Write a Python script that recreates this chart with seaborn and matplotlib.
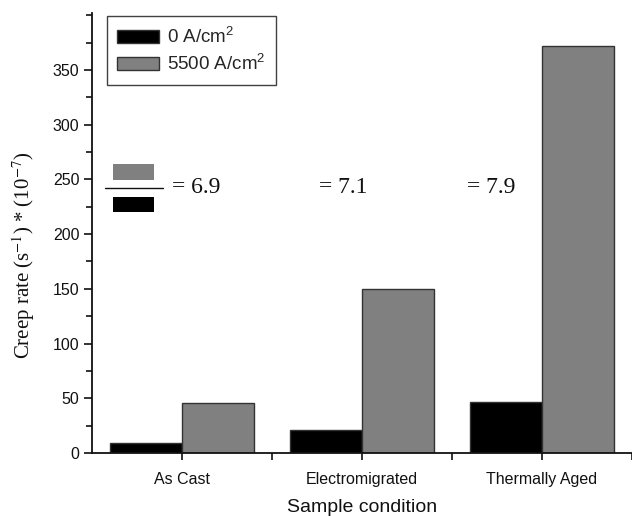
import matplotlib
matplotlib.use("Agg")
import matplotlib.pyplot as plt
import seaborn as sns
import pandas as pd
from matplotlib.patches import Rectangle, Patch
from matplotlib.lines import Line2D
from matplotlib.ticker import MultipleLocator, FixedLocator

# ---- data ----
conditions = ["As Cast", "Electromigrated", "Thermally Aged"]
series_names = ["0 A/cm$^{\\mathregular{2}}$", "5500 A/cm$^{\\mathregular{2}}$"]
rate_0 = [8.8, 20.7, 46.9]
rate_5500 = [46.0, 149.6, 371.5]
ratio_labels = ["= 6.9", "= 7.1", "= 7.9"]
y_ticks = [0, 50, 100, 150, 200, 250, 300, 350]

df = pd.DataFrame({
    "condition": conditions * 2,
    "series": [series_names[0]] * 3 + [series_names[1]] * 3,
    "rate": rate_0 + rate_5500,
})

sns.set_style("white")
plt.rcParams["font.family"] = ["Liberation Sans", "DejaVu Sans"]
plt.rcParams["mathtext.fontset"] = "stix"

fig = plt.figure(figsize=(6.32, 5.16), dpi=100)
ax = fig.add_axes([92 / 632, 63 / 516, 540 / 632, 440 / 516])

colors = ["#000000", "#808080"]
sns.barplot(data=df, x="condition", y="rate", hue="series", order=conditions,
            hue_order=series_names, palette=colors, width=0.8, ax=ax,
            edgecolor="#333333", linewidth=1.0, saturation=1, legend=False)

ax.set_xlim(-0.5, 2.5)
ax.set_ylim(0, 402)
ax.yaxis.set_major_locator(FixedLocator(y_ticks))
ax.yaxis.set_minor_locator(MultipleLocator(25))
ax.xaxis.set_minor_locator(FixedLocator([0.5, 1.5, 2.5]))

for s in ["top", "right"]:
    ax.spines[s].set_visible(False)
for s in ["left", "bottom"]:
    ax.spines[s].set_color("#111111")
    ax.spines[s].set_linewidth(1.3)

ax.tick_params(axis="both", which="both", direction="out", color="#111111",
               width=1.2, bottom=True, left=True)
ax.tick_params(axis="y", which="major", length=6, labelsize=11.5, pad=3)
ax.tick_params(axis="y", which="minor", length=4)
ax.tick_params(axis="x", which="both", length=5, labelsize=11.5, pad=9)
for lab in ax.get_xticklabels() + ax.get_yticklabels():
    lab.set_color("#111111")

ax.set_xlabel("Sample condition", fontsize=14, color="#111111", labelpad=8)
ax.set_ylabel("Creep rate (s$^{-1}$) * (10$^{-7}$)", fontsize=15,
              family=["Liberation Serif"], color="#111111")
ax.yaxis.set_label_coords(-0.102, 0.449)

handles = [Patch(facecolor=colors[0], edgecolor="#333333", label=series_names[0]),
           Patch(facecolor=colors[1], edgecolor="#333333", label=series_names[1])]
leg = ax.legend(handles=handles, loc="upper left", bbox_to_anchor=(0.028, 0.993),
                borderaxespad=0, fontsize=13.5, frameon=True, fancybox=False,
                edgecolor="#111111", handlelength=2.2, handleheight=0.7,
                borderpad=0.55, labelspacing=0.4, handletextpad=0.45)
leg.get_frame().set_linewidth(1.0)

# ratio icon (gray over black)
ax.add_patch(Rectangle((0.039, 0.620), 0.076, 0.037, transform=ax.transAxes,
                       facecolor="#808080", edgecolor="none", clip_on=False))
ax.add_line(Line2D([0.024, 0.1315], [0.602, 0.602], transform=ax.transAxes,
                   color="#111111", linewidth=1.0))
ax.add_patch(Rectangle((0.039, 0.548), 0.076, 0.034, transform=ax.transAxes,
                       facecolor="#000000", edgecolor="none", clip_on=False))

ratio_x = [0.148, 0.420, 0.694]
for xp, txt in zip(ratio_x, ratio_labels):
    ax.text(xp, 0.604, txt, transform=ax.transAxes, ha="left", va="center",
            fontsize=17, family=["Liberation Serif"], color="#111111")

fig.savefig("out.png", dpi=100)
